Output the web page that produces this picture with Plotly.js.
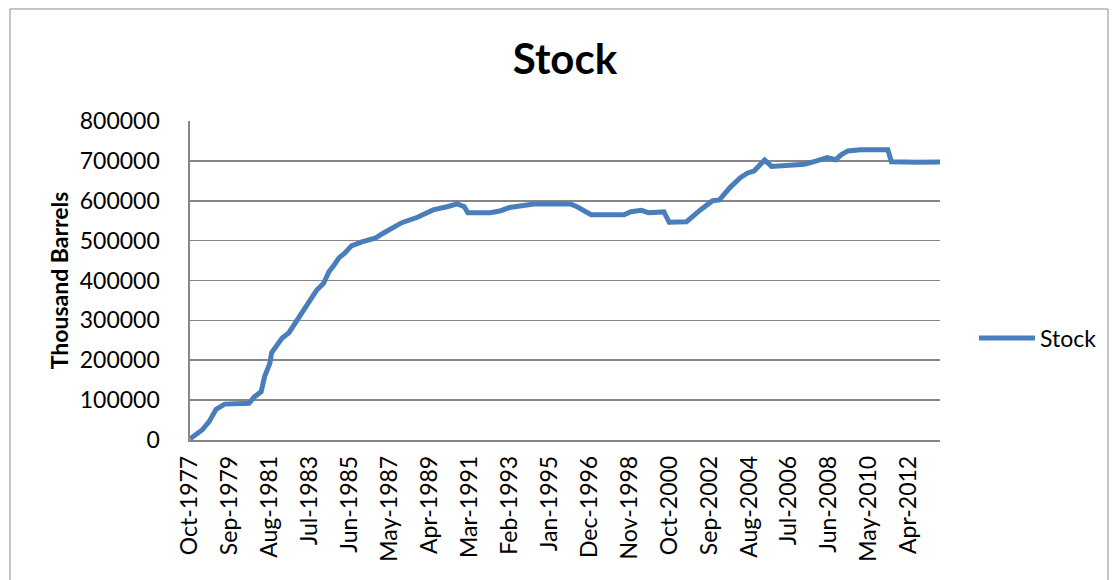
<!DOCTYPE html>
<html>
<head>
<meta charset="utf-8">
<script src="https://cdn.plot.ly/plotly-3.0.1.min.js"></script>
<style>html,body{margin:0;padding:0;background:#fff;}#chart{width:1118px;height:580px;}</style>
</head>
<body>
<div id="chart"></div>
<script>
// Monthly dates and stock values in thousand barrels
var months = [
  '1977-10','1978-05','1978-09','1979-01','1979-06','1980-08','1980-11','1981-03',
  '1981-05','1981-08','1981-09','1982-03','1982-07','1982-11','1983-03','1983-08',
  '1983-11','1984-03','1984-06','1984-09','1984-12','1985-03','1985-07','1986-01',
  '1986-09','1987-01','1987-12','1988-09','1989-06','1990-02','1990-08','1990-12',
  '1991-02','1992-03','1992-09','1993-02','1993-10','1994-04','1996-01','1996-05',
  '1997-01','1998-08','1998-12','1999-06','1999-10','2000-07','2000-10','2001-08',
  '2002-04','2002-11','2003-03','2003-09','2004-03','2004-07','2004-11','2005-05',
  '2005-09','2006-02','2007-04','2007-11','2008-05','2008-10','2009-01','2009-05',
  '2009-12','2011-04','2011-06','2012-09','2013-10'
];
var stock = [
  3000, 25000, 46000, 77000, 90000, 92000, 108000, 121000,
  159000, 192000, 219000, 255000, 269000, 297000, 322000, 359000,
  376000, 393000, 422000, 439000, 458000, 468000, 487000, 497000,
  507000, 518000, 545000, 558500, 577000, 585000, 592000, 585000,
  570000, 570000, 575000, 583000, 588500, 592000, 592000, 585000,
  565000, 565000, 572500, 576000, 570000, 572000, 546000, 547500,
  577000, 600000, 602000, 633000, 658000, 669000, 675000, 702000,
  686000, 687000, 691500, 700000, 708000, 703000, 715000, 725000,
  728000, 728000, 698000, 696500, 697000
];
var tickDates = ['1977-10','1979-09','1981-08','1983-07','1985-06','1987-05','1989-04',
  '1991-03','1993-02','1995-01','1996-12','1998-11','2000-10','2002-09','2004-08',
  '2006-07','2008-06','2010-05','2012-04'];
var tickLabels = ['Oct-1977','Sep-1979','Aug-1981','Jul-1983','Jun-1985','May-1987','Apr-1989',
  'Mar-1991','Feb-1993','Jan-1995','Dec-1996','Nov-1998','Oct-2000','Sep-2002','Aug-2004',
  'Jul-2006','Jun-2008','May-2010','Apr-2012'];
var yTicks = [0,100000,200000,300000,400000,500000,600000,700000,800000];
var seriesName = 'Stock';

var FONT = 'Lato, "Open Sans", sans-serif';
var LINE = '#4a7ebb';
var GRID = '#878787';

var trace = {
  x: months.map(function(m){return m + '-01';}),
  y: stock,
  type: 'scatter',
  mode: 'lines',
  name: seriesName,
  line: {color: LINE, width: 5, shape: 'linear'},
  hoverinfo: 'x+y'
};

var layout = {
  width: 1118, height: 580,
  margin: {l: 190, r: 178, t: 121, b: 140, pad: 0},
  paper_bgcolor: '#ffffff', plot_bgcolor: '#ffffff',
  showlegend: false,
  title: {
    text: 'Stock',
    font: {family: FONT, size: 42, color: '#000', weight: 'bold'},
    x: 0.5, xref: 'paper', xanchor: 'center',
    y: 0.898, yref: 'container', yanchor: 'middle'
  },
  xaxis: {
    type: 'date',
    range: ['1977-10-01', '2013-10-01'],
    tickmode: 'array',
    tickvals: tickDates.map(function(m){return m + '-01';}),
    ticktext: tickLabels,
    tickangle: -90,
    tickfont: {family: FONT, size: 23, color: '#000'},
    ticks: 'outside', ticklen: 5, tickcolor: 'rgba(0,0,0,0)',
    showgrid: false, zeroline: false,
    showline: true, linecolor: GRID, linewidth: 1.6,
    mirror: false, fixedrange: true
  },
  yaxis: {
    range: [0, 800000],
    tickmode: 'array',
    tickvals: yTicks,
    ticktext: yTicks.map(String),
    tickfont: {family: FONT, size: 23, color: '#000'},
    ticks: 'outside', ticklen: 24, tickcolor: 'rgba(0,0,0,0)',
    showgrid: true, gridcolor: GRID, gridwidth: 1.6,
    zeroline: false,
    showline: true, linecolor: GRID, linewidth: 1.6,
    title: {text: 'Thousand Barrels', font: {family: FONT, size: 23, color: '#000', weight: 'bold'}, standoff: 5},
    fixedrange: true
  },
  shapes: [
    {type: 'rect', xref: 'paper', yref: 'paper', x0: -0.24, x1: 1.224, y0: -0.5, y1: 1.3511,
     line: {color: '#8c8c8c', width: 1}, fillcolor: 'rgba(0,0,0,0)', layer: 'below'},
    {type: 'line', xref: 'paper', yref: 'paper', x0: 1.052, x1: 1.1267, y0: 0.3197, y1: 0.3197,
     line: {color: LINE, width: 5}}
  ],
  annotations: [
    {xref: 'paper', yref: 'paper', x: 1.1307, y: 0.3197, xanchor: 'left', yanchor: 'middle',
     text: seriesName, showarrow: false, font: {family: FONT, size: 23, color: '#000'}}
  ]
};

Plotly.newPlot('chart', [trace], layout, {displayModeBar: false, staticPlot: true});
</script>
</body>
</html>
